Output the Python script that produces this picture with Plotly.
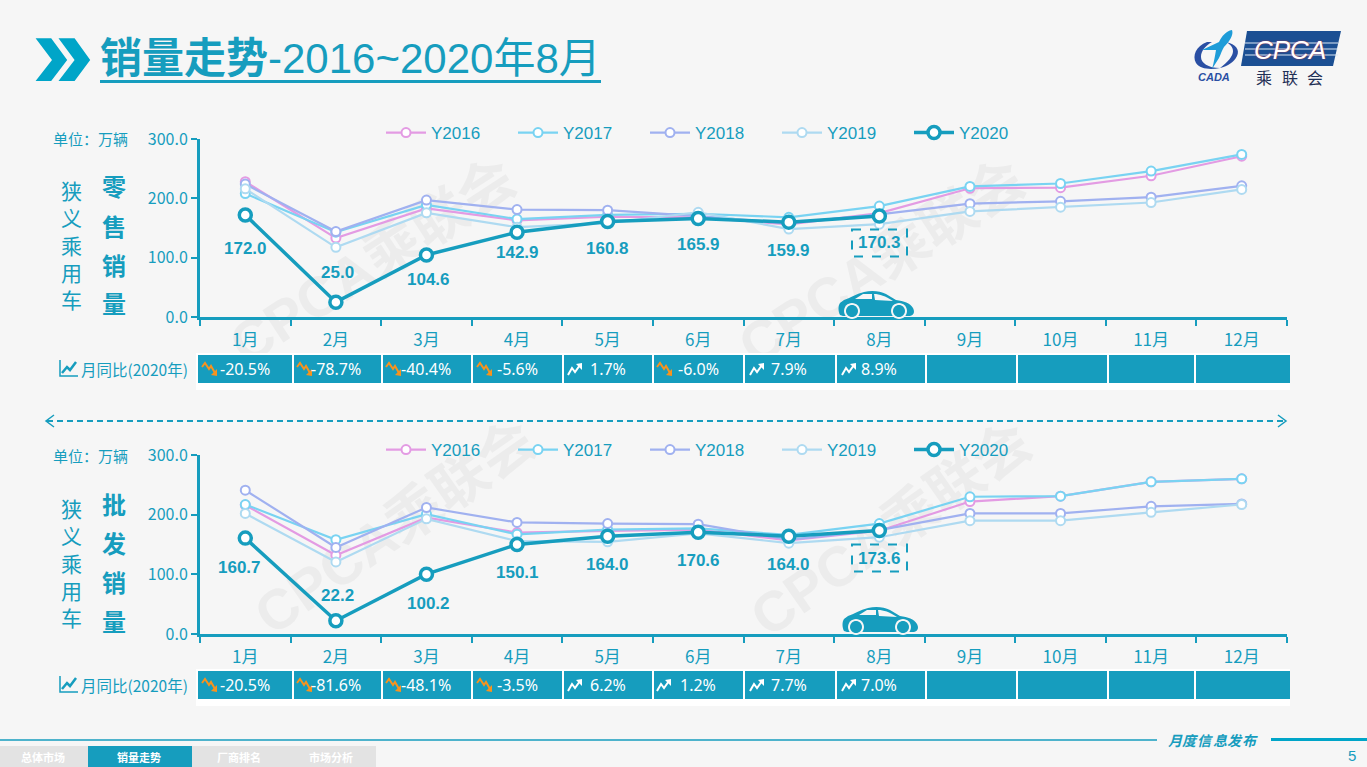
import re
import plotly.graph_objects as go

W, H = 1367, 767

MONTHS = ["1月", "2月", "3月", "4月", "5月", "6月", "7月", "8月", "9月", "10月", "11月", "12月"]

# retail
RETAIL_2016 = [228, 133, 183, 163, 169, 168, 156, 175, 217, 218, 238, 271]
RETAIL_2017 = [208, 143, 189, 165, 172, 174, 168, 187, 220, 225, 246, 274]
RETAIL_2018 = [224, 144, 197, 181, 180, 170, 158, 173, 191, 195, 202, 221]
RETAIL_2019 = [216, 117.4, 175.5, 151.4, 158.1, 176.5, 148.2, 156.4, 178, 185, 193, 215]
RETAIL_2020 = [172.0, 25.0, 104.6, 142.9, 160.8, 165.9, 159.9, 170.3]
RETAIL_YOY = [-20.5, -78.7, -40.4, -5.6, 1.7, -6.0, 7.9, 8.9]

# wholesale
WHOLESALE_2016 = [216, 132, 195, 170, 173, 175, 157, 173, 222, 231, 255, 260]
WHOLESALE_2017 = [217, 158, 201, 167, 175, 177, 166, 185, 230, 231, 255, 260]
WHOLESALE_2018 = [241, 145, 212, 187, 185, 184, 158, 174, 202, 202, 214, 218]
WHOLESALE_2019 = [202, 120.7, 193, 155.5, 154.4, 168.6, 152.3, 162.2, 190, 190, 204, 217]
WHOLESALE_2020 = [160.7, 22.2, 100.2, 150.1, 164.0, 170.6, 164.0, 173.6]
WHOLESALE_YOY = [-20.5, -81.6, -48.1, -3.5, 6.2, 1.2, 7.7, 7.0]

YEARS = ["Y2016", "Y2017", "Y2018", "Y2019"]
YEAR_COLORS = ["#E39BE3", "#79D3F2", "#A0B1F0", "#AEDAF1"]

TEAL = "#169DBE"
BG = "#F6F6F6"
CN = "Noto Sans CJK SC"
LAT = "Liberation Sans"

# layout in page pixels
AX_LEFT, AX_RIGHT = 200, 1287
CELL_EDGES = [(198, 292), (294, 381), (383, 471), (473, 562), (564, 652), (654, 743),
              (745, 835), (837, 925), (927, 1016), (1018, 1107), (1109, 1194), (1196, 1290)]
ICON_X = [202, 297, 386, 477, 568, 657, 750, 842]
RETAIL_SHIFT = [(0, 34), (2, -30), (2, 25), (0, 20), (0, 27), (0, 26), (0, 28), (0, 27)]
WHOLESALE_SHIFT = [(-6, 29), (2, -25), (2, 29), (0, 28), (0, 28), (0, 28), (0, 28), (0, 28)]


def px(x):
    return x / W


def py(y):
    return 1 - y / H


def path(s, ox=0, oy=0):
    # "M 1 2 L 3 4" in pixels -> paper coordinates
    out = []
    is_x = True
    for tok in re.findall(r"[A-Za-z]|-?[\d.]+", s):
        if tok.isalpha():
            out.append(tok)
        else:
            out.append(f"{px(float(tok) + ox):.5f}" if is_x else f"{py(float(tok) + oy):.5f}")
            is_x = not is_x
    return " ".join(out)


shapes = []
annos = []


def rect(x0, y0, x1, y1, color, layer="above"):
    shapes.append(dict(type="rect", xref="paper", yref="paper", x0=px(x0), x1=px(x1), y0=py(y0), y1=py(y1),
                       fillcolor=color, line_width=0, layer=layer))


def line(x0, y0, x1, y1, color, width, dash="solid"):
    shapes.append(dict(type="line", xref="paper", yref="paper", x0=px(x0), x1=px(x1), y0=py(y0), y1=py(y1),
                       line=dict(color=color, width=width, dash=dash), layer="above"))


def fill(s, color, ox=0, oy=0):
    shapes.append(dict(type="path", xref="paper", yref="paper", path=path(s, ox, oy), fillcolor=color,
                       line_width=0, layer="above"))


def stroke(s, color, width, ox=0, oy=0):
    shapes.append(dict(type="path", xref="paper", yref="paper", path=path(s, ox, oy),
                       fillcolor="rgba(0,0,0,0)", line=dict(color=color, width=width), layer="above"))


def disc(cx, cy, r, color):
    k = r * 0.55
    fill(f"M {cx - r} {cy} C {cx - r} {cy - k} {cx - k} {cy - r} {cx} {cy - r} "
         f"C {cx + k} {cy - r} {cx + r} {cy - k} {cx + r} {cy} "
         f"C {cx + r} {cy + k} {cx + k} {cy + r} {cx} {cy + r} "
         f"C {cx - k} {cy + r} {cx - r} {cy + k} {cx - r} {cy} Z", color)


def text(x, y, s, size, color=TEAL, family=CN, anchor="center", **font_kw):
    annos.append(dict(xref="paper", yref="paper", x=px(x), y=py(y), text=s, showarrow=False, xanchor=anchor,
                      yanchor="middle", font=dict(size=size, color=color, family=family, **font_kw)))


def watermark(cx, cy, angle=-33):
    shapes.append(dict(type="rect", xref="paper", yref="paper", x0=px(cx - 1), x1=px(cx + 1), y0=py(cy + 1),
                       y1=py(cy - 1), line_width=0, fillcolor="rgba(0,0,0,0)", layer="below",
                       label=dict(text="<b>CPCA乘联会</b>", textangle=angle, textposition="middle center",
                                  font=dict(size=56, color="#ECECEC", family=f"{LAT}, {CN}"))))


def car(ox, oy):
    fill("M 2 24 C 0 20 0 15 2 12 L 6 9 C 12 7 18 3 26 1 C 34 -1 42 0 48 3 L 58 9 C 66 10 72 12 75 17 "
         "C 77 21 76 24 72 25 L 5 25 Z", TEAL, ox, oy)
    fill("M 17 8 L 25 3 L 34 3 L 34 8 Z", BG, ox, oy)
    fill("M 36 3 C 42 3 47 5 55 10 L 37 9 Z", BG, ox, oy)
    for wx in (14, 61):
        disc(ox + wx, oy + 20, 8, BG)
        disc(ox + wx, oy + 20, 6, TEAL)


def trend_icon(x, cy, value):
    if value < 0:
        stroke("M 0 4 L 3 0 L 7 6 L 9 3 L 13 10", "#F7931E", 2, x, cy - 6)
        fill("M 15 13 L 9 12 L 15 6 Z", "#F7931E", x, cy - 6)
    else:
        stroke("M 0 12 L 4 5 L 7 9 L 12 2", "white", 2, x, cy - 6)
        fill("M 14 0 L 8 1 L 14 7 Z", "white", x, cy - 6)


def table_row(y0, y1, yoy, xaxis):
    rect(196, y0 - 2, 1290, y1 + 7, "white")
    for a, b in CELL_EDGES:
        rect(a, y0, b, y1, TEAL)
    cy = (y0 + y1) / 2
    for i, v in enumerate(yoy):
        trend_icon(ICON_X[i], cy, v)
        annos.append(dict(xref=xaxis, yref="paper", x=i, y=py(cy), text=f"{v:.1f}%", showarrow=False,
                          xanchor="center", yanchor="middle",
                          font=dict(size=16, color="white", family="Noto Sans")))
    # small chart icon and row title
    stroke("M 60 %.1f L 60 %.1f L 78 %.1f" % (cy - 9, cy + 7, cy + 7), TEAL, 1.5)
    stroke("M 62 %.1f L 67 %.1f L 70 %.1f L 76 %.1f" % (cy + 4, cy - 2, cy + 1, cy - 7), TEAL, 2.5)
    text(79, cy, "月同比(2020年)", 15.5, anchor="left")


def panel_text(title, unit_y, solid_y, bold_ys):
    text(90, unit_y, "单位：万辆", 15)
    text(71, solid_y, "<br>".join("狭义乘用车"), 21)
    for ch, y in zip(title, bold_ys):
        text(114, y, f"<b>{ch}</b>", 24)


fig = go.Figure()

panels = [
    ("x", "y", "legend", [RETAIL_2016, RETAIL_2017, RETAIL_2018, RETAIL_2019], RETAIL_2020, RETAIL_SHIFT),
    ("x2", "y2", "legend2", [WHOLESALE_2016, WHOLESALE_2017, WHOLESALE_2018, WHOLESALE_2019], WHOLESALE_2020,
     WHOLESALE_SHIFT),
]

for xa, ya, leg, series, cur, shifts in panels:
    for name, vals, col in zip(YEARS, series, YEAR_COLORS):
        fig.add_trace(go.Scatter(x=MONTHS, y=vals, name=name, xaxis=xa, yaxis=ya, legend=leg, mode="lines+markers",
                                 line=dict(color=col, width=2.2),
                                 marker=dict(size=9, color="white", line=dict(color=col, width=2))))
    fig.add_trace(go.Scatter(x=MONTHS[:len(cur)], y=cur, name="Y2020", xaxis=xa, yaxis=ya, legend=leg,
                             mode="lines+markers", line=dict(color=TEAL, width=3.5),
                             marker=dict(size=12, color="white", line=dict(color=TEAL, width=3.5))))
    for i, v in enumerate(cur):
        dx, dy = shifts[i]
        annos.append(dict(xref=xa, yref=ya, x=i, y=v, text=f"<b>{v:.1f}</b>", showarrow=False, xanchor="center",
                          yanchor="middle", xshift=dx, yshift=-dy,
                          font=dict(size=17, color=TEAL, family=LAT)))

# watermarks sit under everything
watermark(370, 257)
watermark(879, 258)
watermark(392, 523, -35)
watermark(888, 525, -35)

# header
fill("M 35.6 38.3 L 51.2 38.3 L 67.2 60 L 51.2 81 L 35.6 81 L 52 60 Z", "#00A5C8")
fill("M 58.5 38.3 L 74.6 38.3 L 90.2 60 L 74.6 81 L 58.5 81 L 74.6 60 Z", "#00A5C8")
text(98, 59, "<b>销量走势</b>-2016~2020年8月", 42, family=f"{LAT}, {CN}", anchor="left")
line(100, 81.5, 601, 81.5, TEAL, 3)

# logo
fill("M 1247 31 L 1341 31 L 1333 66 L 1241 66 Z", "#1B4F93")
for sy in (43, 49, 55):
    line(1245, sy, 1338, sy, "#DCE8F4", 1)
text(1290, 50, "<i>CPCA</i>", 26, color="white", family=LAT, shadow="0 0 1.5px #E0303A")
for ch, x in zip("乘联会", (1264, 1290, 1315)):
    text(x, 77, ch, 16, color="#1F2F55")
fill("M 1207 42 C 1196 46 1192 56 1196 63 C 1200 69 1210 70 1220 68 C 1208 68 1201 63 1201 57 "
     "C 1201 51 1205 46 1212 42 Z", "#2A4FA3")
fill("M 1226 42 C 1236 44 1240 50 1237 56 C 1234 62 1228 66 1220 68 C 1228 62 1233 56 1233 51 "
     "C 1233 47 1230 44 1226 42 Z", "#2A4FA3")
fill("M 1232 30 C 1226 31 1222 36 1219 42 L 1202 50 L 1216 50 C 1215 56 1214 62 1212 69 L 1219 58 "
     "C 1221 54 1222 50 1224 47 C 1229 42 1234 35 1232 30 Z", "#1E9CD8")
text(1214, 77, "<b><i>CADA</i></b>", 11, color="#2A4FA3", family=LAT)

# retail panel extras
panel_text("零售销量", 138, 245, (185, 225, 264, 303))
car(838, 291)
shapes.append(dict(type="rect", xref="paper", yref="paper", x0=px(852), x1=px(907), y0=py(229.5), y1=py(256.5),
                   line=dict(color=TEAL, width=2, dash="dash"), fillcolor="rgba(0,0,0,0)", layer="above"))
table_row(355, 383, RETAIL_YOY, "x")

# separator
line(47, 421, 1285, 421, TEAL, 2, "6px,4px")
stroke("M 54 415 L 46 421 L 54 427", TEAL, 1.5)
stroke("M 1278 415 L 1286 421 L 1278 427", TEAL, 1.5)

# wholesale panel extras
panel_text("批发销量", 455, 562, (503, 542, 581, 620))
car(842, 607)
shapes.append(dict(type="rect", xref="paper", yref="paper", x0=px(852), x1=px(907), y0=py(544.5), y1=py(571.5),
                   line=dict(color=TEAL, width=2, dash="dash"), fillcolor="rgba(0,0,0,0)", layer="above"))
table_row(671, 699, WHOLESALE_YOY, "x2")

# footer
line(0, 740, 1157, 740, TEAL, 1.5)
line(1271, 739.5, W, 739.5, "#00A5C8", 3)
for ch, x in zip("月度信息发布", (1175, 1190, 1205, 1220, 1235, 1250)):
    text(x, 740, f"<b><i>{ch}</i></b>", 14)
text(1352, 755, "5", 15, family=LAT)
for (a, b), lab, col in zip([(0, 88), (88, 192), (192, 288), (288, 376)],
                            ["总体市场", "销量走势", "厂商排名", "市场分析"],
                            ["#E3E3E3", TEAL, "#E3E3E3", "#E3E3E3"]):
    rect(a, 746, b, H, col)
    text((a + b) / 2 - 1, 757, f"<b>{lab}</b>", 11, color="white")


def x_axis(anchor):
    return dict(domain=[px(AX_LEFT), px(AX_RIGHT)], anchor=anchor, type="category", categoryorder="array",
                categoryarray=MONTHS, range=[-0.5, 11.5], tickson="boundaries", ticks="outside", ticklen=6,
                tickwidth=1.5, tickcolor=TEAL, showline=True, linecolor=TEAL, linewidth=2.5, showgrid=False,
                zeroline=False, ticklabelstandoff=6, tickfont=dict(size=17, color=TEAL, family=CN))


def y_axis(anchor, top, bottom):
    return dict(domain=[py(bottom), py(top)], anchor=anchor, range=[0, 300], tickvals=[0, 100, 200, 300],
                tickformat=".1f", ticks="outside", ticklen=6, tickwidth=1.5, tickcolor=TEAL, showline=True,
                linecolor=TEAL, linewidth=3, showgrid=False, zeroline=False,
                tickfont=dict(size=16, color=TEAL, family=CN))


def legend_at(y):
    return dict(orientation="h", x=px(381), y=py(y), xanchor="left", yanchor="middle", itemwidth=40,
                entrywidth=77, entrywidthmode="pixels", bgcolor="rgba(0,0,0,0)", itemclick=False,
                font=dict(size=17, color=TEAL, family=LAT))


fig.update_layout(
    width=W,
    height=H,
    margin=dict(l=0, r=0, t=0, b=0, autoexpand=False),
    paper_bgcolor=BG,
    plot_bgcolor="rgba(0,0,0,0)",
    hovermode=False,
    showlegend=True,
    xaxis=x_axis("y"),
    yaxis=y_axis("x", 139, 317),
    xaxis2=x_axis("y2"),
    yaxis2=y_axis("x2", 455, 634),
    legend=legend_at(133),
    legend2=legend_at(450),
    shapes=shapes,
    annotations=annos,
)

fig.write_html("out.html", config={"displayModeBar": False},
               post_script="document.body.style.margin='0';document.body.style.overflow='hidden';")
